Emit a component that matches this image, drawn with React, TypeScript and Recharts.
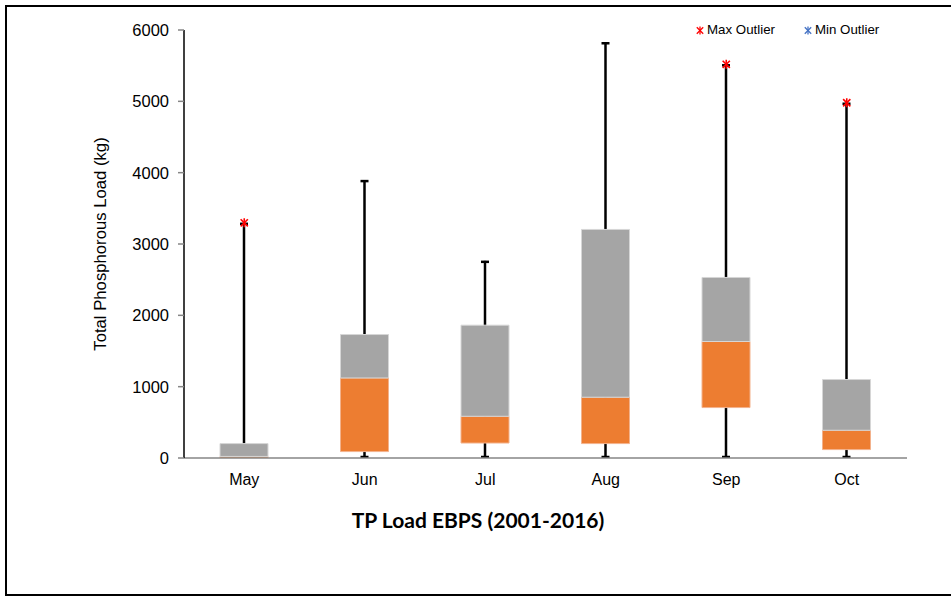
import React from 'react';
import { ComposedChart, Bar, Scatter, XAxis, YAxis, Label } from 'recharts';

const months = ['May', 'Jun', 'Jul', 'Aug', 'Sep', 'Oct'];
const minValues = [0, 0, 0, 0, 0, 0];
const q1Values = [0, 90, 210, 202, 707, 118];
const medianValues = [22, 1122, 585, 852, 1633, 389];
const q3Values = [202, 1731, 1862, 3204, 2531, 1100];
const maxValues = [3297, 3896, 2764, 5828, 5519, 4980];
const maxOutliers: (number | null)[] = [3297, null, null, null, 5519, 4980];
const yTicks = [0, 1000, 2000, 3000, 4000, 5000, 6000];
const boundaryTicks = [0, 1, 2, 3, 4, 5, 6];

const data = months.map((m, i) => ({
  month: m,
  whisker: [minValues[i], maxValues[i]],
  lower: [q1Values[i], medianValues[i]],
  upper: [medianValues[i], q3Values[i]],
  maxOut: maxOutliers[i],
}));

const FONT = 'Arial, "Liberation Sans", sans-serif';

const WhiskerShape = (props: any) => {
  const { x, y, width, height } = props;
  const cx = x + width / 2;
  const top = y;
  const bottom = y + height;
  const cap = 4;
  return (
    <g>
      <line x1={cx} x2={cx} y1={top} y2={bottom} stroke="#000" strokeWidth={2.5} />
      <line x1={cx - cap} x2={cx + cap} y1={top + 1} y2={top + 1} stroke="#000" strokeWidth={2.5} />
      <line x1={cx - cap} x2={cx + cap} y1={bottom - 1} y2={bottom - 1} stroke="#000" strokeWidth={2.5} />
    </g>
  );
};

const Star = ({ cx, cy, color, r = 4.5, sw = 1.6 }: any) => {
  if (cx == null || cy == null) return null;
  const d = r * 0.8;
  return (
    <g>
      <line x1={cx - d} y1={cy - d} x2={cx + d} y2={cy + d} stroke={color} strokeWidth={sw} />
      <line x1={cx - d} y1={cy + d} x2={cx + d} y2={cy - d} stroke={color} strokeWidth={sw} />
      <line x1={cx} y1={cy - r} x2={cx} y2={cy + r} stroke={color} strokeWidth={sw} />
    </g>
  );
};

const OutlierShape = (props: any) => {
  const { cx, cy, payload } = props;
  if (payload == null || payload.maxOut == null) return <g />;
  return <Star cx={cx} cy={cy} color="#ff0000" />;
};

export default function App() {
  return (
    <div style={{ position: 'absolute', left: 0, top: 0, width: 951, height: 596, overflow: 'hidden', background: '#fff' }}>
      <div style={{ position: 'absolute', left: 5, top: 5, width: 980, height: 591, border: '2px solid #000', boxSizing: 'border-box' }} />
      <div style={{ position: 'absolute', left: 0, top: 0 }}>
        <ComposedChart
          width={951}
          height={596}
          data={data}
          margin={{ top: 30, right: 44, bottom: 108, left: 0 }}
          barGap={-48}
          barCategoryGap={0}
        >
          <XAxis
            xAxisId="bounds"
            type="number"
            domain={[0, 6]}
            ticks={boundaryTicks}
            height={1}
            tick={false}
            tickSize={6}
            axisLine={{ stroke: '#868686', strokeWidth: 1.5 }}
            tickLine={{ stroke: '#868686', strokeWidth: 1.5 }}
            allowDataOverflow
          />
          <XAxis
            xAxisId="cat"
            dataKey="month"
            type="category"
            height={29}
            axisLine={false}
            tickLine={false}
            tickMargin={9}
            tick={{ fill: '#000', fontSize: 16, fontFamily: FONT }}
          />
          <YAxis
            domain={[0, 6000]}
            ticks={yTicks}
            width={184}
            tickSize={6}
            tickMargin={9}
            axisLine={{ stroke: '#000', strokeWidth: 1.5 }}
            tickLine={{ stroke: '#868686', strokeWidth: 1.5 }}
            tick={{ fill: '#000', fontSize: 16.5, fontFamily: FONT }}
            allowDataOverflow
          >
            <Label
              value="Total Phosphorous Load (kg)"
              angle={-90}
              position="center"
              dx={8}
              style={{ fill: '#000', fontSize: 16.7, fontFamily: FONT }}
            />
          </YAxis>
          <Bar xAxisId="cat" dataKey="whisker" barSize={48} shape={<WhiskerShape />} isAnimationActive={false} />
          <Bar xAxisId="cat" dataKey="lower" barSize={48} fill="#ED7D31" stroke="#f3b28c" strokeWidth={1} isAnimationActive={false} />
          <Bar xAxisId="cat" dataKey="upper" barSize={48} fill="#A5A5A5" stroke="#d6d6d6" strokeWidth={1} isAnimationActive={false} />
          <Scatter xAxisId="cat" dataKey="maxOut" shape={<OutlierShape />} isAnimationActive={false} />
        </ComposedChart>
      </div>
      <div style={{ position: 'absolute', left: 0, top: 506, width: 956, textAlign: 'center', fontFamily: 'Lato, sans-serif', fontWeight: 700, fontSize: 21, color: '#000', lineHeight: '28px' }}>
        TP Load EBPS (2001-2016)
      </div>
      <div style={{ position: 'absolute', left: 695, top: 22, display: 'flex', alignItems: 'center', fontFamily: FONT, fontSize: 13.3, color: '#000', lineHeight: '16px' }}>
        <svg width={10} height={16}><Star cx={5} cy={8.5} color="#ff0000" r={4} sw={1.3} /></svg>
        <span style={{ marginLeft: 2 }}>Max Outlier</span>
        <svg width={10} height={16} style={{ marginLeft: 28 }}><Star cx={5} cy={8.5} color="#4472C4" r={4} sw={1.3} /></svg>
        <span style={{ marginLeft: 2 }}>Min Outlier</span>
      </div>
    </div>
  );
}
